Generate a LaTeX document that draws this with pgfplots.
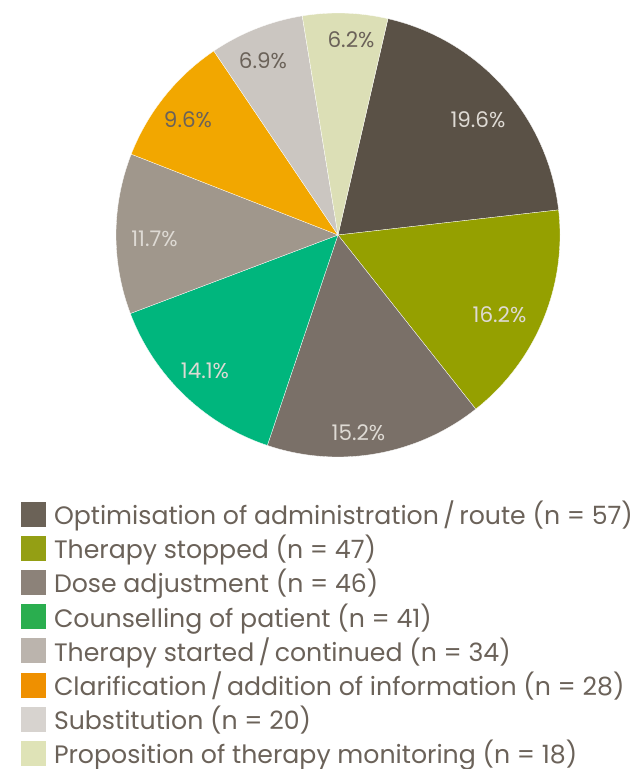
\documentclass[border=0pt]{standalone}
\usepackage{fontspec}
\setmainfont{Poppins}
\usepackage{pgfplots}
\usepackage{pgfplotstable}
\pgfplotsset{compat=1.18}
\definecolor{p0}{HTML}{5A5146}
\definecolor{p1}{HTML}{95A000}
\definecolor{p2}{HTML}{7A7068}
\definecolor{p3}{HTML}{00B67D}
\definecolor{p4}{HTML}{A0978C}
\definecolor{p5}{HTML}{F2A700}
\definecolor{p6}{HTML}{CBC6C1}
\definecolor{p7}{HTML}{DCDFB6}
\definecolor{l0}{HTML}{6B6257}
\definecolor{l1}{HTML}{949F14}
\definecolor{l2}{HTML}{8C8279}
\definecolor{l3}{HTML}{2AAE4F}
\definecolor{l4}{HTML}{BBB4AD}
\definecolor{l5}{HTML}{EF9000}
\definecolor{l6}{HTML}{D7D3CF}
\definecolor{l7}{HTML}{DFE3B7}
\definecolor{txt}{HTML}{6B6259}
\definecolor{lite}{HTML}{DEDAD4}

\pgfplotstableread{
n  pct  lx      ly      lc
57 19.6  0.6306  0.5180 lite
47 16.2  0.7275 -0.3604 lite
46 15.2  0.0923 -0.8919 lite
41 14.1 -0.5991 -0.6126 lite
34 11.7 -0.8266 -0.0180 lite
28 9.6  -0.6757  0.5180 txt
20 6.9  -0.3378  0.7860 txt
18 6.2   0.0586  0.8806 txt
}\piedata

% cumulative angles (start 13 deg clockwise from top, going clockwise)
\xdef\tot{0}
\foreach \i in {0,...,7}{%
  \pgfplotstablegetelem{\i}{n}\of{\piedata}%
  \pgfmathsetmacro{\tmp}{\tot+\pgfplotsretval}\xdef\tot{\tmp}}
\xdef\cum{0}
\foreach \i in {0,...,7}{%
  \pgfplotstablegetelem{\i}{n}\of{\piedata}\edef\nv{\pgfplotsretval}%
  \pgfmathsetmacro{\a}{77-360*(\cum/\tot)}%
  \pgfmathsetmacro{\b}{77-360*((\cum+\nv)/\tot)}%
  \expandafter\xdef\csname sa\i\endcsname{\a}%
  \expandafter\xdef\csname sb\i\endcsname{\b}%
  \pgfplotstablegetelem{\i}{pct}\of{\piedata}%
  \expandafter\xdef\csname pc\i\endcsname{\pgfplotsretval}%
  \pgfplotstablegetelem{\i}{lx}\of{\piedata}%
  \expandafter\xdef\csname lx\i\endcsname{\pgfplotsretval}%
  \pgfplotstablegetelem{\i}{ly}\of{\piedata}%
  \expandafter\xdef\csname ly\i\endcsname{\pgfplotsretval}%
  \pgfplotstablegetelem{\i}{lc}\of{\piedata}%
  \expandafter\xdef\csname lc\i\endcsname{\pgfplotsretval}%
  \pgfmathsetmacro{\tmp}{\cum+\nv}\xdef\cum{\tmp}}

\begin{document}
\begin{tikzpicture}
\path[use as bounding box, clip] (0,0) rectangle (639bp,769bp);
\begin{axis}[
  at={(0,0)}, anchor=south west,
  x=222bp, y=222bp,
  xmin=-1.52252, xmax=1.35586,
  ymin=-2.40541, ymax=1.05856,
  hide axis, clip=false,
  legend cell align=left,
  legend image code/.code={%
    \fill[#1, draw=none] (0bp,-6.5bp) rectangle (25bp,18.5bp);},
  legend style={at={(axis description cs:0.03286,0.3471)}, anchor=north west,
    draw=none, fill=none, inner sep=0pt, outer sep=0pt,
    row sep=0pt, column sep=8bp,
    nodes={inner sep=0pt, outer sep=0pt, text=txt, text height=19.8bp, text depth=11.4bp,
      font=\fontsize{25.2bp}{30bp}\selectfont}},
]
\pgfplotsinvokeforeach{0,...,7}{%
  \fill[p#1, draw=white, line width=0.3pt, line join=round]
    (axis cs:0,0) -- (axis cs:{cos(\csname sa#1\endcsname)},{sin(\csname sa#1\endcsname)})
    arc[start angle=\csname sa#1\endcsname, end angle=\csname sb#1\endcsname, radius=222bp] -- cycle;
}
\pgfplotsinvokeforeach{0,...,7}{%
  \node[text=\csname lc#1\endcsname, font=\fontsize{21.5bp}{24bp}\selectfont, inner sep=0pt]
    at (axis cs:\csname lx#1\endcsname,\csname ly#1\endcsname)
    {\csname pc#1\endcsname\%};
}
\addlegendimage{l0}\addlegendentry{Optimisation of administration\,/\,route (n = 57)}
\addlegendimage{l1}\addlegendentry{Therapy stopped (n = 47)}
\addlegendimage{l2}\addlegendentry{Dose adjustment (n = 46)}
\addlegendimage{l3}\addlegendentry{Counselling of patient (n = 41)}
\addlegendimage{l4}\addlegendentry{Therapy started\,/\,continued (n = 34)}
\addlegendimage{l5}\addlegendentry{Clarification\,/\,addition of information (n = 28)}
\addlegendimage{l6}\addlegendentry{Substitution (n = 20)}
\addlegendimage{l7}\addlegendentry{Proposition of therapy monitoring (n = 18)}
\end{axis}
\end{tikzpicture}
\end{document}
